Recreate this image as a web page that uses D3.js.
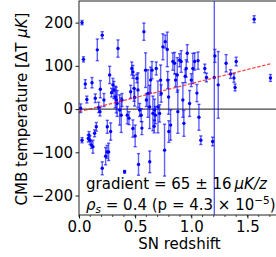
<!DOCTYPE html>
<html>
<head>
<meta charset="utf-8">
<script src="https://cdn.jsdelivr.net/npm/d3@7"></script>
<style>
  body { margin: 0; background: #fff; }
  text { font-family: "DejaVu Sans", sans-serif; }
</style>
</head>
<body>
<div id="chart"></div>
<script>
// CMB temperature vs SN redshift, with error bars and a linear fit

// Data
var redshift = [0.015, 0.027, 0.027, 0.04, 0.056, 0.07, 0.083, 0.089, 0.098, 0.11,
  0.116, 0.124, 0.139, 0.145, 0.154, 0.163, 0.175, 0.187, 0.19, 0.207,
  0.207, 0.222, 0.237, 0.25, 0.252, 0.264, 0.273, 0.282, 0.29, 0.302,
  0.311, 0.323, 0.332, 0.34, 0.347, 0.362, 0.376, 0.383, 0.406, 0.43,
  0.445, 0.46, 0.47, 0.48, 0.48, 0.49, 0.495, 0.50, 0.516, 0.525,
  0.53, 0.54, 0.554, 0.56, 0.578, 0.593, 0.60, 0.614, 0.63, 0.629,
  0.638, 0.65, 0.658, 0.67, 0.673, 0.68, 0.688, 0.703, 0.718, 0.727,
  0.732, 0.747, 0.762, 0.768, 0.786, 0.79, 0.798, 0.80, 0.816, 0.836,
  0.851, 0.86, 0.875, 0.88, 0.896, 0.91, 0.925, 0.934, 0.946, 0.955,
  0.964, 0.985, 1.0, 1.014, 1.03, 1.05, 1.06, 1.068, 1.085, 1.12,
  1.135, 1.19, 1.205, 1.21, 1.24, 1.31, 1.35, 1.38, 1.39, 1.40,
  1.56, 1.705];
var temperature = [2, 200, -72, 115, 58, 22, -68, -60, -72, -83,
  61, -87, -56, 25, -41, 137, 4, -6, 46, 171,
  -137, 21, -109, -99, -41, -99, 79, -52, 38, 56,
  44, 28, 21, 13, 140, -2, -14, 21, -145, -14,
  -21, 40, 94, 86, -45, 48, 27, -62, 71, 44,
  -128, -2, -14, -44, 179, 90, 21, 36, -122, 5,
  67, 90, -10, -40, -2, -14, 94, 5, -10, 67,
  36, 144, -95, 156, 138, 67, 28, -52, -37, 110,
  106, 67, 79, -6, 113, 110, 21, -33, 76, 94,
  129, 13, 67, 94, 110, 37, 112, -19, -72, 94,
  73, -75, 73, 123, 56, 106, 81, 72, 50, 110,
  208, 72];
var tempError = [10, 5, 6, 6, 10, 8, 8, 8, 10, 8,
  12, 15, 8, 10, 10, 25, 12, 10, 20, 8,
  15, 15, 20, 15, 15, 20, 20, 20, 10, 15,
  20, 25, 30, 30, 20, 35, 40, 15, 3, 20,
  15, 15, 15, 15, 20, 30, 20, 25, 10, 40,
  25, 15, 15, 15, 20, 40, 15, 55, 25, 50,
  30, 20, 40, 15, 25, 20, 15, 60, 20, 35,
  20, 30, 60, 15, 40, 20, 40, 25, 35, 20,
  25, 15, 40, 50, 15, 25, 40, 30, 15, 20,
  20, 30, 15, 35, 20, 20, 20, 30, 10, 10,
  10, 10, 400, 15, 77, 20, 10, 10, 8, 10,
  8, 8];

var xTicks = [0, 0.5, 1.0, 1.5];
var xMinorTicks = d3.range(0, 18).map(function(i) { return i / 10; });
var yTicks = [-200, -100, 0, 100, 200];

var fitSlope = 65, fitIntercept = -6;

var margin = { top: 1, left: 79, right: -4, bottom: 42 };
var width = 276 - margin.left - margin.right;
var height = 257 - margin.top - margin.bottom;

var svg = d3.select("#chart").append("svg")
    .attr("width", 276)
    .attr("height", 257);

var g = svg.append("g")
    .attr("transform", "translate(" + margin.left + "," + margin.top + ")");

svg.append("defs").append("clipPath")
    .attr("id", "plotClip")
  .append("rect")
    .attr("width", width)
    .attr("height", height);

var x = d3.scaleLinear()
    .domain([0, 1.79])
    .range([0, width]);

var y = d3.scaleLinear()
    .domain([-245, 250])
    .range([height, 0]);

var data = redshift.map(function(z, i) {
  return { z: z, t: temperature[i], e: tempError[i] };
});

var plot = g.append("g").attr("clip-path", "url(#plotClip)");

// zero line
plot.append("line")
    .attr("x1", 0).attr("x2", width)
    .attr("y1", y(0)).attr("y2", y(0))
    .attr("stroke", "#444")
    .attr("stroke-width", 1.3);

// error bars (semi transparent, like the reference)
var bars = plot.selectAll(".ebar")
  .data(data)
  .enter().append("g")
    .attr("class", "ebar")
    .attr("stroke", "#0000ff")
    .attr("stroke-opacity", 0.62)
    .attr("stroke-width", 1.4);

bars.append("line")
    .attr("x1", function(d) { return x(d.z); })
    .attr("x2", function(d) { return x(d.z); })
    .attr("y1", function(d) { return y(d.t - d.e); })
    .attr("y2", function(d) { return y(d.t + d.e); });

bars.selectAll(".cap")
  .data(function(d) { return [d.t - d.e, d.t + d.e].map(function(v) { return { z: d.z, v: v }; }); })
  .enter().append("line")
    .attr("class", "cap")
    .attr("x1", function(d) { return x(d.z) - 1.6; })
    .attr("x2", function(d) { return x(d.z) + 1.6; })
    .attr("y1", function(d) { return y(d.v); })
    .attr("y2", function(d) { return y(d.v); });

plot.selectAll(".dot")
  .data(data)
  .enter().append("circle")
    .attr("class", "dot")
    .attr("cx", function(d) { return x(d.z); })
    .attr("cy", function(d) { return y(d.t); })
    .attr("r", 1.7)
    .attr("fill", "#0000ff");

// linear fit
var zMax = d3.max(redshift);
plot.append("line")
    .attr("x1", x(0)).attr("x2", x(zMax))
    .attr("y1", y(fitIntercept)).attr("y2", y(fitIntercept + fitSlope * zMax))
    .attr("stroke", "red")
    .attr("stroke-opacity", 0.7)
    .attr("stroke-width", 1.3)
    .attr("stroke-dasharray", "3.5,1.6");

// axes
var xAxis = d3.axisBottom(x)
    .tickValues(xTicks)
    .tickSize(3.5)
    .tickPadding(2.5)
    .tickFormat(d3.format(".1f"));

var yAxis = d3.axisLeft(y)
    .tickValues(yTicks)
    .tickSize(3.5)
    .tickPadding(2.5)
    .tickFormat(d3.format("d"));

function styleAxis(a) {
  a.select(".domain").remove();
  a.selectAll(".tick line").attr("stroke", "#000").attr("stroke-width", 0.9);
  a.selectAll(".tick text").style("font-size", "15px").style("font-family", "DejaVu Sans").attr("fill", "#000");
}

g.append("g")
    .attr("transform", "translate(0," + height + ")")
    .selectAll(".minor")
    .data(xMinorTicks)
    .enter().append("line")
    .attr("x1", function(d) { return x(d); })
    .attr("x2", function(d) { return x(d); })
    .attr("y1", 0).attr("y2", 2)
    .attr("stroke", "#000")
    .attr("stroke-width", 0.7);

g.append("g")
    .attr("transform", "translate(0," + height + ")")
    .call(xAxis)
    .call(styleAxis);

g.append("g")
    .call(yAxis)
    .call(styleAxis);

// spines
g.append("rect")
    .attr("width", width)
    .attr("height", height)
    .attr("fill", "none")
    .attr("stroke", "#222")
    .attr("stroke-width", 1);

// labels
svg.append("text")
    .attr("x", 179.5)
    .attr("y", 249)
    .attr("text-anchor", "middle")
    .style("font-size", "15px")
    .text("SN redshift");

var yLabel = svg.append("text")
    .attr("transform", "translate(27,109) rotate(-90)")
    .attr("text-anchor", "middle")
    .style("font-size", "15px");
yLabel.append("tspan").text("CMB temperature [ΔT ");
yLabel.append("tspan").style("font-style", "italic").text("μK");
yLabel.append("tspan").text("]");

// annotation
var t1 = svg.append("text")
    .attr("x", 86).attr("y", 189)
    .style("font-size", "15px");
t1.append("tspan").text("gradient = 65 ± 16\u2009");
t1.append("tspan").style("font-style", "italic").text("μK/z");

var t2 = svg.append("text")
    .attr("x", 86).attr("y", 210)
    .style("font-size", "15px");
t2.append("tspan").style("font-style", "italic").text("ρ");
t2.append("tspan").style("font-style", "italic").style("font-size", "10.5px").attr("dy", 3).text("s");
t2.append("tspan").attr("dy", -3).text(" = 0.4 (p = 4.3 × 10");
t2.append("tspan").style("font-size", "10.5px").attr("dy", -6).text("−5");
t2.append("tspan").attr("dy", 6).text(")");
</script>
</body>
</html>
